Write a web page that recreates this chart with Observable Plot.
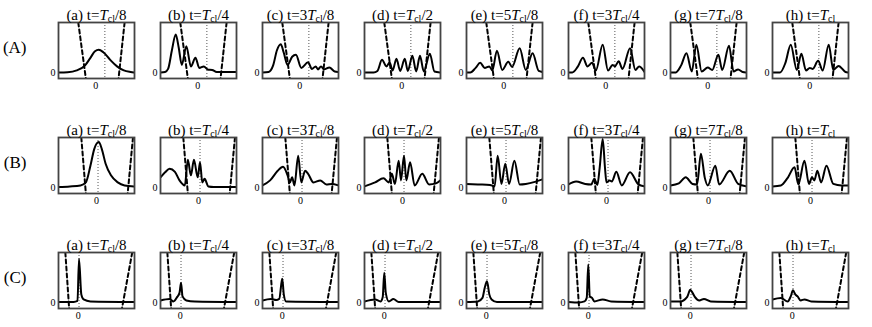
<!DOCTYPE html>
<html><head><meta charset="utf-8">
<script src="https://cdn.jsdelivr.net/npm/d3@7"></script>
<script src="https://cdn.jsdelivr.net/npm/@observablehq/plot@0.6"></script>
<style>body{margin:0;background:#fff}#chart{width:872px;height:327px}</style>
</head><body><div id="chart"></div>
<script>
const rows = ["A", "B", "C"];
const panels = ["a", "b", "c", "d", "e", "f", "g", "h"];
const titles = ["(a) t=T_cl/8", "(b) t=T_cl/4", "(c) t=3T_cl/8", "(d) t=T_cl/2", "(e) t=5T_cl/8", "(f) t=3T_cl/4", "(g) t=7T_cl/8", "(h) t=T_cl"];
const zeroTickX = [0.49, 0.50, 0.26];
const centerLineX = [0.61, 0.52, 0.27];
const wellLeftArm = [[0.26, 0.36], [0.30, 0.36], [0.09, 0.14]];
const wellRightArm = [[0.87, 0.79], [0.98, 0.91], [0.97, 0.835]];
const yTop = 1, yBottom = -0.11;

const curvesA = [
  [[0,0.01],[0.12,0.015],[0.24,0.05],[0.35,0.15],[0.42,0.30],[0.48,0.43],[0.53,0.46],[0.59,0.41],[0.68,0.26],[0.77,0.13],[0.86,0.05],[0.95,0.02],[1,0.01]],
  [[0,0.01],[0.06,0.02],[0.1,0.08],[0.15,0.45],[0.2,0.76],[0.24,0.5],[0.28,0.16],[0.34,0.53],[0.40,0.13],[0.46,0.30],[0.51,0.10],[0.57,0.13],[0.62,0.07],[0.68,0.06],[0.74,0.02],[1,0.02]],
  [[0,0.01],[0.08,0.02],[0.14,0.15],[0.19,0.45],[0.24,0.57],[0.28,0.4],[0.33,0.16],[0.39,0.32],[0.44,0.36],[0.51,0.10],[0.60,0.21],[0.65,0.08],[0.70,0.13],[0.73,0.07],[0.77,0.13],[0.81,0.07],[0.88,0.11],[0.95,0.03],[1,0.02]],
  [[0,0.01],[0.12,0.01],[0.17,0.04],[0.23,0.26],[0.29,0.13],[0.33,0.21],[0.37,0.05],[0.42,0.28],[0.47,0.04],[0.53,0.28],[0.57,0.04],[0.63,0.34],[0.68,0.03],[0.73,0.34],[0.78,0.03],[0.86,0.38],[0.92,0.03],[1,0.01]],
  [[0,0.01],[0.05,0.01],[0.12,0.1],[0.18,0.2],[0.24,0.1],[0.30,0.13],[0.34,0.05],[0.40,0.44],[0.47,0.06],[0.55,0.22],[0.60,0.12],[0.70,0.49],[0.78,0.06],[0.87,0.39],[0.95,0.04],[1,0.02]],
  [[0,0.01],[0.05,0.01],[0.12,0.12],[0.19,0.3],[0.25,0.13],[0.31,0.2],[0.36,0.05],[0.45,0.56],[0.52,0.05],[0.58,0.16],[0.61,0.13],[0.66,0.23],[0.71,0.08],[0.81,0.49],[0.88,0.06],[0.93,0.13],[1,0.02]],
  [[0,0.01],[0.07,0.01],[0.14,0.15],[0.21,0.39],[0.28,0.03],[0.34,0.56],[0.41,0.03],[0.49,0.11],[0.55,0.06],[0.63,0.36],[0.68,0.06],[0.77,0.54],[0.83,0.03],[0.89,0.07],[0.95,0.02],[1,0.01]],
  [[0,0.01],[0.1,0.01],[0.17,0.2],[0.24,0.56],[0.32,0.06],[0.38,0.38],[0.44,0.05],[0.49,0.1],[0.53,0.08],[0.60,0.24],[0.66,0.05],[0.74,0.56],[0.80,0.06],[0.87,0.14],[0.96,0.02],[1,0.01]]
];
const curvesB = [
  [[0,0.02],[0.15,0.03],[0.29,0.05],[0.36,0.11],[0.42,0.44],[0.47,0.77],[0.53,0.91],[0.57,0.77],[0.62,0.48],[0.69,0.25],[0.78,0.11],[0.87,0.05],[1,0.03]],
  [[0,0.21],[0.06,0.31],[0.12,0.38],[0.19,0.32],[0.25,0.15],[0.32,0.05],[0.36,0.56],[0.40,0.25],[0.44,0.56],[0.49,0.21],[0.52,0.51],[0.55,0.11],[0.58,0.18],[0.63,0.03],[0.7,0.02],[1,0.02]],
  [[0,0.05],[0.1,0.15],[0.2,0.34],[0.27,0.42],[0.33,0.25],[0.36,0.11],[0.39,0.21],[0.42,0.05],[0.47,0.64],[0.51,0.11],[0.56,0.34],[0.6,0.28],[0.67,0.11],[0.76,0.15],[0.84,0.07],[0.91,0.08],[1,0.05]],
  [[0,0.03],[0.14,0.11],[0.25,0.19],[0.32,0.11],[0.36,0.28],[0.40,0.08],[0.45,0.54],[0.48,0.15],[0.52,0.64],[0.55,0.15],[0.60,0.51],[0.66,0.05],[0.76,0.28],[0.85,0.07],[0.94,0.09],[1,0.15]],
  [[0,0.08],[0.15,0.07],[0.31,0.06],[0.37,0.03],[0.41,0.64],[0.46,0.08],[0.51,0.48],[0.56,0.08],[0.63,0.54],[0.70,0.07],[0.78,0.08],[0.9,0.12],[1,0.17]],
  [[0,0.07],[0.1,0.13],[0.22,0.08],[0.3,0.07],[0.34,0.18],[0.38,0.06],[0.41,0.4],[0.45,0.97],[0.48,0.4],[0.5,0.11],[0.54,0.15],[0.57,0.13],[0.63,0.32],[0.70,0.05],[0.81,0.31],[0.92,0.07],[1,0.03]],
  [[0,0.05],[0.11,0.09],[0.2,0.21],[0.29,0.08],[0.35,0.07],[0.40,0.68],[0.45,0.21],[0.49,0.05],[0.59,0.44],[0.64,0.07],[0.78,0.34],[0.89,0.08],[1,0.03]],
  [[0,0.03],[0.11,0.05],[0.2,0.2],[0.29,0.41],[0.34,0.07],[0.42,0.54],[0.48,0.08],[0.52,0.21],[0.55,0.15],[0.59,0.34],[0.64,0.11],[0.71,0.44],[0.80,0.08],[0.91,0.05],[1,0.05]]
];
const curvesC = [
  [[0,0.02],[0.2,0.02],[0.25,0.04],[0.27,0.87],[0.3,0.17],[0.33,0.07],[0.42,0.03],[1,0.02]],
  [[0,0.05],[0.12,0.08],[0.17,0.03],[0.22,0.12],[0.25,0.2],[0.27,0.4],[0.29,0.13],[0.34,0.05],[0.45,0.03],[1,0.02]],
  [[0,0.05],[0.11,0.08],[0.18,0.06],[0.22,0.08],[0.25,0.4],[0.26,0.48],[0.28,0.17],[0.31,0.03],[1,0.02]],
  [[0,0.03],[0.14,0.07],[0.21,0.03],[0.24,0.12],[0.26,0.6],[0.28,0.2],[0.32,0.03],[0.38,0.08],[0.45,0.02],[1,0.02]],
  [[0,0.02],[0.15,0.03],[0.21,0.1],[0.24,0.3],[0.27,0.43],[0.30,0.17],[0.33,0.07],[0.40,0.02],[1,0.02]],
  [[0,0.02],[0.14,0.01],[0.21,0.03],[0.24,0.1],[0.26,0.76],[0.28,0.13],[0.31,0.1],[0.34,0.03],[0.45,0.07],[0.56,0.03],[1,0.02]],
  [[0,0.03],[0.13,0.03],[0.22,0.12],[0.26,0.26],[0.29,0.2],[0.32,0.12],[0.38,0.05],[0.44,0.08],[0.53,0.03],[1,0.02]],
  [[0,0.07],[0.11,0.1],[0.2,0.03],[0.24,0.13],[0.27,0.25],[0.30,0.17],[0.33,0.13],[0.37,0.05],[0.42,0.07],[0.51,0.03],[1,0.02]]
];

const curveRows = [curvesA, curvesB, curvesC];
const cells = rows.flatMap((row, r) => panels.map((panel, p) => ({row, panel, r, p})));
const curveData = cells.flatMap(c => curveRows[c.r][c.p].map(([x, y]) => ({row: c.row, panel: c.panel, x, y})));
const wellData = cells.flatMap(c => [
  {row: c.row, panel: c.panel, arm: c.panel + "L", x: wellLeftArm[c.r][0], y: yTop},
  {row: c.row, panel: c.panel, arm: c.panel + "L", x: wellLeftArm[c.r][1], y: yBottom},
  {row: c.row, panel: c.panel, arm: c.panel + "R", x: wellRightArm[c.r][0], y: yTop},
  {row: c.row, panel: c.panel, arm: c.panel + "R", x: wellRightArm[c.r][1], y: yBottom}
]);

const serif = "'Liberation Serif', 'Times New Roman', Times, serif";

const plot = Plot.plot({
  width: 872,
  height: 327,
  marginLeft: 57.5,
  marginRight: 23,
  marginTop: 21,
  marginBottom: 18,
  x: {domain: [0, 1], axis: null},
  y: {domain: [yBottom, yTop], axis: null},
  fx: {domain: panels, axis: null, paddingInner: 0.256, paddingOuter: 0},
  fy: {domain: rows, axis: null, paddingInner: 0.517, paddingOuter: 0},
  style: {fontFamily: serif, color: "#000", background: "#fff"},
  marks: [
    Plot.axisFy({anchor: "left", tickSize: 0, tickPadding: 32, fontSize: 17, dy: -3, tickFormat: d => `(${d})`, label: null}),
    Plot.ruleX(cells, {x: c => centerLineX[c.r], fx: "panel", fy: "row", stroke: "#555", strokeWidth: 1, strokeDasharray: "1,2"}),
    Plot.line(wellData, {x: "x", y: "y", z: "arm", fx: "panel", fy: "row", stroke: "#000", strokeWidth: 2, strokeDasharray: "4,3", clip: "frame"}),
    Plot.line(curveData, {x: "x", y: "y", z: "panel", fx: "panel", fy: "row", curve: "monotone-x", stroke: "#000", strokeWidth: 2, clip: "frame"}),
    Plot.frame({stroke: "#444", strokeWidth: 1.8}),
    Plot.text(cells, {y: () => 0, fx: "panel", fy: "row", text: () => "0", frameAnchor: "left", textAnchor: "end", dx: -3, fontSize: 10}),
    Plot.text(cells, {x: c => zeroTickX[c.r], fx: "panel", fy: "row", text: () => "0", frameAnchor: "bottom", lineAnchor: "top", dy: 3, fontSize: 10}),
    Plot.text(cells, {fx: "panel", fy: "row", text: c => titles[c.p], frameAnchor: "top", lineAnchor: "bottom", dy: -3, fontSize: 15})
  ]
});

d3.select(plot).selectAll("text").each(function () {
  const s = this.textContent;
  if (!s.includes("T_cl")) return;
  const [pre, post] = s.split("T_cl");
  const t = d3.select(this);
  t.text(null);
  t.append("tspan").text(pre);
  t.append("tspan").attr("font-style", "italic").text("T");
  t.append("tspan").attr("font-size", 10).attr("dy", 2.5).text("cl");
  if (post) t.append("tspan").attr("dy", -2.5).text(post);
});

document.getElementById("chart").append(plot);
</script>
</body></html>
